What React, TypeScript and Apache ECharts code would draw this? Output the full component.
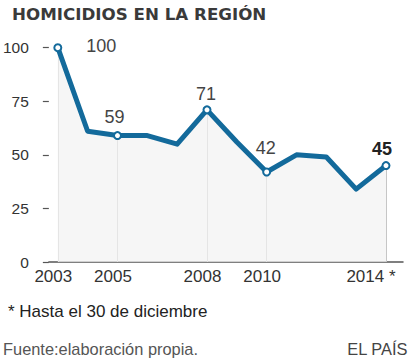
import React, { useEffect, useRef } from "react";
import * as echarts from "echarts";

const years = [2003, 2004, 2005, 2006, 2007, 2008, 2009, 2010, 2011, 2012, 2013, 2014];
const values = [100, 61, 59, 59, 55, 71, 56, 42, 50, 49, 34, 45];
const labeledYears = [2003, 2005, 2008, 2010, 2014];
const xTickLabels = ["2003", "2005", "2008", "2010", "2014 *"];
const yTicks = [0, 25, 50, 75, 100];
const titleText = "HOMICIDIOS EN LA REGIÓN";
const noteText = "* Hasta el 30 de diciembre";
const sourceText = "Fuente:elaboración propia.";
const brandText = "EL PAÍS";

const BLUE = "#136a9b";
const FONT = "Liberation Sans, Arial, sans-serif";

export default function App() {
  const ref = useRef<HTMLDivElement>(null);
  useEffect(() => {
    if (!ref.current) return;
    const chart = echarts.init(ref.current, undefined, { renderer: "svg" });
    const labelCfg: Record<number, any> = {
      2003: { position: "right", distance: 24, offset: [0, -2] },
      2005: { position: "top", distance: 5, offset: [-3, 0] },
      2008: { position: "top", distance: 2, offset: [-1, 0] },
      2010: { position: "top", distance: 10, offset: [-1, 0] },
      2014: { position: "top", distance: 3, offset: [-4, 0], fontWeight: "bold", color: "#222" },
    };
    const data = years.map((y, i) => {
      const isLab = labeledYears.indexOf(y) >= 0;
      return {
        value: [y, values[i]],
        symbol: isLab ? "circle" : "none",
        label: isLab
          ? {
              show: true,
              fontSize: 18,
              color: "#444",
              fontFamily: FONT,
              ...labelCfg[y],
            }
          : { show: false },
      };
    });
    const dropLines = labeledYears.map((y) => {
      const v = values[years.indexOf(y)];
      return [{ coord: [y, 0] }, { coord: [y, v] }];
    });
    chart.setOption({
      animation: false,
      backgroundColor: "#ffffff",
      title: {
        text: titleText,
        left: 7,
        top: 0,
        textStyle: {
          fontFamily: "DejaVu Sans",
          fontSize: 16.7,
          fontWeight: "bold",
          color: "#3a3a3a",
        },
      },
      grid: { left: 48, right: 11, top: 47.7, bottom: 101, containLabel: false },
      xAxis: {
        type: "value",
        min: 2002.7,
        max: 2014.57,
        axisLine: { show: true, lineStyle: { color: "#555", width: 1.5 } },
        axisTick: { show: false },
        splitLine: { show: false },
        axisLabel: {
          customValues: labeledYears,
          margin: 6,
          formatter: (v: number) => {
            const idx = labeledYears.indexOf(v);
            const t = idx >= 0 ? xTickLabels[idx] : "";
            return v === 2014 ? "{b|" + t + "}" : "{a|" + t + "}";
          },
          rich: {
            a: { fontSize: 17, color: "#333", fontFamily: FONT, padding: [0, 9, 0, 0] },
            b: { fontSize: 17, color: "#333", fontFamily: FONT, padding: [0, 30, 0, 0] },
          },
        },
      },
      yAxis: {
        type: "value",
        min: 0,
        max: 100,
        interval: 25,
        axisLine: { show: false },
        axisTick: { show: true, length: 6, lineStyle: { color: "#555", width: 1.2 } },
        splitLine: { show: false },
        axisLabel: {
          margin: 20,
          fontSize: 15.5,
          color: "#333",
          fontFamily: FONT,
          formatter: (v: number) => (yTicks.indexOf(v) >= 0 ? String(v) : ""),
        },
      },
      series: [
        {
          type: "line",
          data,
          symbolSize: 7,
          itemStyle: { color: "#ffffff", borderColor: BLUE, borderWidth: 2 },
          lineStyle: { color: BLUE, width: 5, join: "round" },
          areaStyle: { color: "#f2f2f2", origin: "start" },
          z: 3,
          markLine: {
            silent: true,
            symbol: ["none", "none"],
            label: { show: false },
            lineStyle: { color: "#c6c6c6", width: 1, type: "solid" },
            data: dropLines,
            z: 1,
          },
        },
      ],
      graphic: [
        {
          type: "text",
          left: 8,
          top: 303,
          style: { text: noteText, fontSize: 17, fill: "#222", fontFamily: FONT },
        },
        {
          type: "text",
          left: 3,
          top: 341,
          style: { text: sourceText, fontSize: 16.4, fill: "#555", fontFamily: FONT },
        },
        {
          type: "text",
          right: 6,
          top: 341,
          style: { text: brandText, fontSize: 16.4, fill: "#444", fontFamily: FONT },
        },
      ],
    });
    return () => chart.dispose();
  }, []);
  return <div ref={ref} style={{ width: 414, height: 363, position: "absolute", left: 0, top: 0 }} />;
}
